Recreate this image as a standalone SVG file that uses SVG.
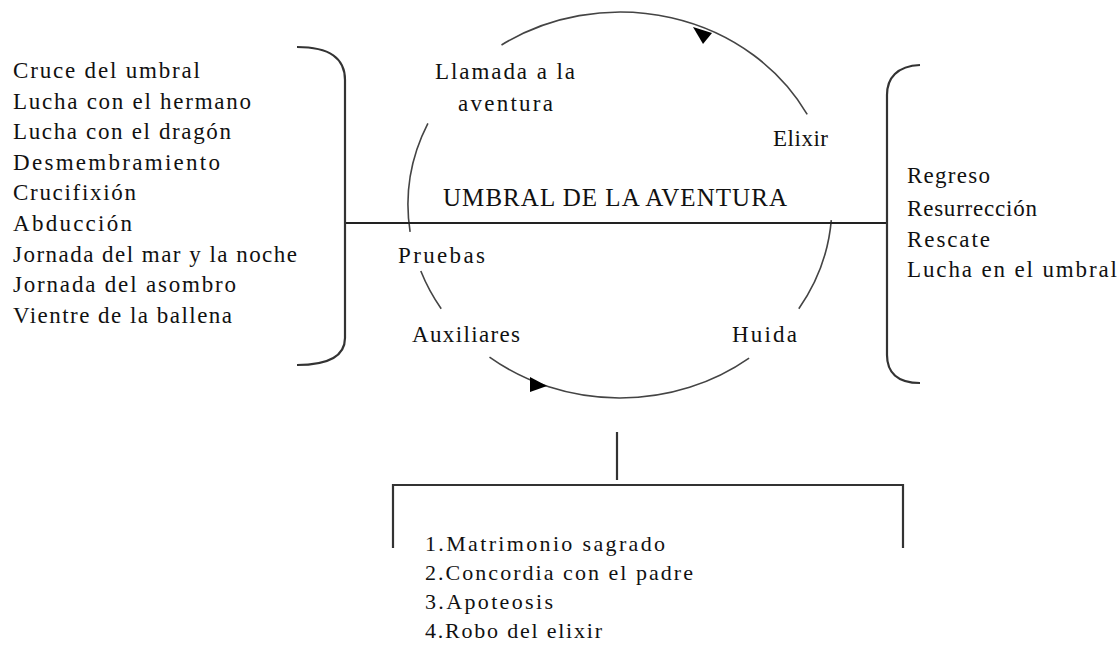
<svg xmlns="http://www.w3.org/2000/svg" width="1118" height="648" viewBox="0 0 1118 648">
<style>
  .t { font-family: "Liberation Serif", "Times New Roman", serif; fill: #111; }
  .arc { fill: none; stroke: #444; stroke-width: 1.6; }
  .ln { fill: none; stroke: #222; stroke-width: 2; }
  .br { fill: none; stroke: #333; stroke-width: 2.2; }
  .head { fill: #000; stroke: none; }
</style>
<rect width="1118" height="648" fill="#fff"/>
<g id="connectors">
  <path class="arc" d="M 501.5 45 A 212 193 0 0 1 807.2 114.4"/>
  <path class="arc" d="M 427.9 123.4 A 212 193 0 0 0 410.1 231.9"/>
  <path class="arc" d="M 420.8 271 A 212 193 0 0 0 441.2 308.7"/>
  <path class="arc" d="M 749.1 358.1 A 212 193 0 0 1 489.5 357.1"/>
  <path class="arc" d="M 831.3 220.1 A 212 193 0 0 1 798.8 308.7"/>
  <polygon class="head" points="693,27 703,44 712,33"/>
  <polygon class="head" points="530,377 530,392 547,386"/>
  <line class="ln" x1="345" y1="223" x2="887" y2="223"/>
  <path class="br" d="M 297 47 C 330 47 345 58 345 80 L 345 338 C 345 356 330 365 297 365"/>
  <path class="br" d="M 920 65 C 897 66 887 78 887 95 L 887 355 C 887 372 897 383 920 383"/>
  <line class="br" x1="617" y1="432" x2="617" y2="480"/>
  <path class="br" d="M 393 548 L 393 485 L 903 485 L 903 548"/>
</g>
<g id="left-list" class="t" font-size="23">
  <text x="13" y="78" textLength="187" lengthAdjust="spacing">Cruce del umbral</text>
  <text x="13" y="108.6" textLength="238" lengthAdjust="spacing">Lucha con el hermano</text>
  <text x="13" y="139.2" textLength="218" lengthAdjust="spacing">Lucha con el dragón</text>
  <text x="13" y="169.8" textLength="207" lengthAdjust="spacing">Desmembramiento</text>
  <text x="13" y="200.4" textLength="123" lengthAdjust="spacing">Crucifixión</text>
  <text x="13" y="231" textLength="119" lengthAdjust="spacing">Abducción</text>
  <text x="13" y="261.6" textLength="284" lengthAdjust="spacing">Jornada del mar y la noche</text>
  <text x="13" y="292.2" textLength="223" lengthAdjust="spacing">Jornada del asombro</text>
  <text x="13" y="322.8" textLength="219" lengthAdjust="spacing">Vientre de la ballena</text>
</g>
<g id="llamada" class="t" font-size="23">
  <text x="435" y="79" textLength="140" lengthAdjust="spacing">Llamada a la</text>
  <text x="458" y="111" textLength="95" lengthAdjust="spacing">aventura</text>
</g>
<g id="elixir" class="t" font-size="23">
  <text x="773" y="146" textLength="55" lengthAdjust="spacing">Elixir</text>
</g>
<g id="umbral" class="t" font-size="25">
  <text x="443" y="206" textLength="344" lengthAdjust="spacing">UMBRAL DE LA AVENTURA</text>
</g>
<g id="pruebas" class="t" font-size="23">
  <text x="398" y="263" textLength="87" lengthAdjust="spacing">Pruebas</text>
</g>
<g id="auxiliares" class="t" font-size="23">
  <text x="412" y="342" textLength="108" lengthAdjust="spacing">Auxiliares</text>
</g>
<g id="huida" class="t" font-size="23">
  <text x="732" y="342" textLength="65" lengthAdjust="spacing">Huida</text>
</g>
<g id="right-list" class="t" font-size="23">
  <text x="907" y="183" textLength="83" lengthAdjust="spacing">Regreso</text>
  <text x="907" y="216" textLength="130" lengthAdjust="spacing">Resurrección</text>
  <text x="907" y="246.5" textLength="83" lengthAdjust="spacing">Rescate</text>
  <text x="907" y="277" textLength="210" lengthAdjust="spacing">Lucha en el umbral</text>
</g>
<g id="bottom-list" class="t" font-size="22">
  <text x="425" y="551" textLength="240" lengthAdjust="spacing">1.Matrimonio sagrado</text>
  <text x="425" y="580" textLength="268" lengthAdjust="spacing">2.Concordia con el padre</text>
  <text x="425" y="609" textLength="128" lengthAdjust="spacing">3.Apoteosis</text>
  <text x="425" y="638" textLength="177" lengthAdjust="spacing">4.Robo del elixir</text>
</g>
</svg>
